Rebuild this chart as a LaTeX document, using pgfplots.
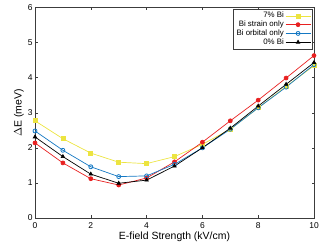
\documentclass[border=0pt]{standalone}
\usepackage{pgfplots}
\pgfplotsset{compat=1.18}
\usepackage{fontspec}
\setmainfont{Liberation Sans}
\definecolor{cyel}{RGB}{236,228,64}
\definecolor{cred}{RGB}{232,32,32}
\definecolor{cblue}{RGB}{20,120,195}
\definecolor{caxis}{RGB}{60,60,60}
\begin{document}
\begin{tikzpicture}
\begin{axis}[
  scale only axis, width=279bp, height=210.5bp,
  xmin=0, xmax=10, ymin=0, ymax=6,
  xtick={0,2,...,10}, ytick={0,1,...,6},
  xtick pos=both, ytick pos=both,
  tick align=inside, major tick length=2.5bp,
  axis line style={caxis, line width=0.5pt},
  tick style={caxis, line width=0.4pt},
  /pgf/number format/assume math mode=true,
  ticklabel style={font=\fontsize{8.5}{9}\selectfont, text=black},
  xticklabel style={yshift=-1pt},
  yticklabel style={xshift=1pt},
  xlabel={E-field Strength (kV/cm)},
  ylabel={$\Delta$E (meV)},
  label style={font=\fontsize{10.5}{12}\selectfont},
  xlabel style={yshift=3pt},
  ylabel style={yshift=-3pt},
  clip=false,
  legend cell align=right,
  legend style={at={(rel axis cs:0.995,0.992)}, anchor=north east,
    font=\fontsize{7.9}{8.4}\selectfont, draw=caxis, line width=0.4pt,
    legend plot pos=right, row sep=-1.2pt, inner sep=1.5pt,
    nodes={inner sep=1.4pt}},
  legend image code/.code={\draw[mark repeat=2,mark phase=2] plot coordinates {(0bp,0bp)(12.5bp,0bp)(25bp,0bp)};},
  every axis plot/.append style={line width=0.7pt},
]
\path (rel axis cs:0,0) ++(-35bp,-31bp) rectangle ++(332bp,249bp);
\addplot[cyel, mark=square*, mark size=2pt] coordinates {
(0,2.77)(1,2.26)(2,1.85)(3,1.59)(4,1.55)(5,1.75)(6,2.10)(7,2.53)(8,3.14)(9,3.75)(10,4.34)};
\addlegendentry{7\% Bi}
\addplot[cred, mark=*, mark size=2pt] coordinates {
(0,2.14)(1,1.57)(2,1.12)(3,0.94)(4,1.14)(5,1.60)(6,2.16)(7,2.77)(8,3.36)(9,3.99)(10,4.63)};
\addlegendentry{Bi strain only}
\addplot[cblue, mark=o, mark size=2pt, mark options={line width=0.8pt}] coordinates {
(0,2.48)(1,1.93)(2,1.46)(3,1.18)(4,1.20)(5,1.53)(6,2.00)(7,2.53)(8,3.14)(9,3.73)(10,4.37)};
\addlegendentry{Bi orbital only}
\addplot[black, mark=triangle*, mark size=2pt] coordinates {
(0,2.31)(1,1.75)(2,1.25)(3,0.99)(4,1.08)(5,1.48)(6,2.00)(7,2.56)(8,3.19)(9,3.81)(10,4.43)};
\addlegendentry{0\% Bi}
\end{axis}
\end{tikzpicture}
\end{document}
